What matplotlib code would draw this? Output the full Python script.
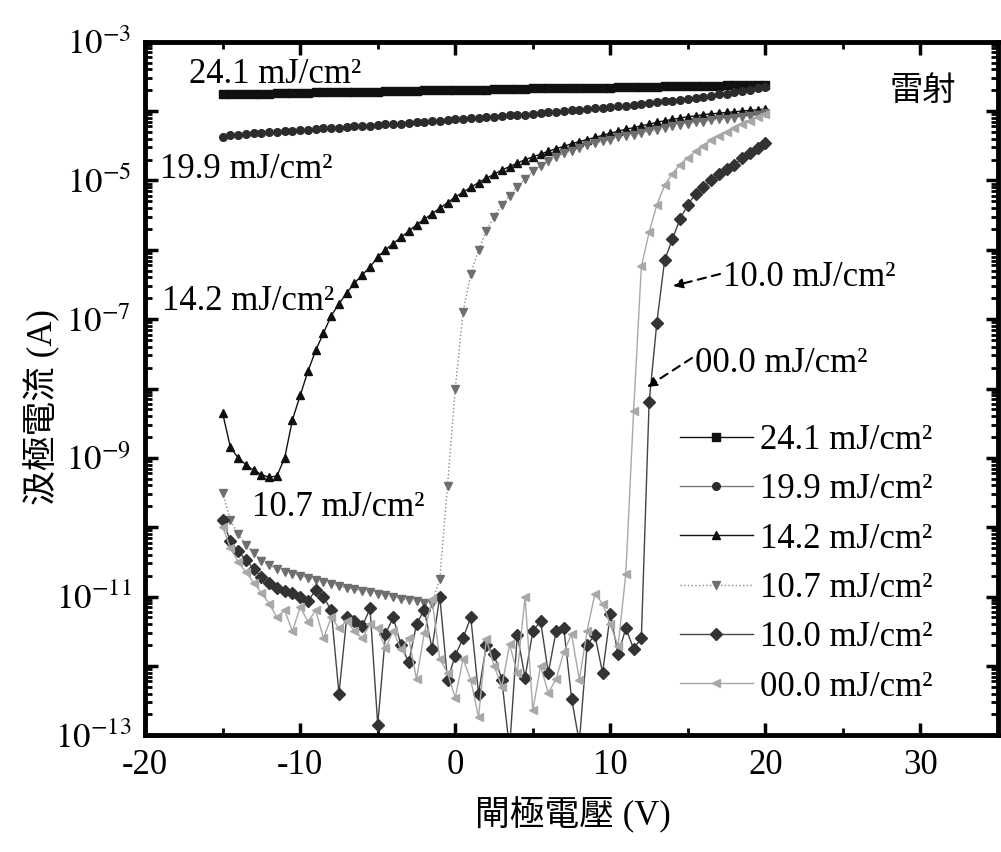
import numpy as np
import matplotlib
matplotlib.use('Agg')
import matplotlib.pyplot as plt
from matplotlib.ticker import LogLocator, MultipleLocator, NullFormatter

plt.rcParams['font.family'] = ['Liberation Serif', 'Noto Sans CJK TC']
plt.rcParams['mathtext.fontset'] = 'stix'
plt.rcParams['axes.unicode_minus'] = False

# gate voltage sweep, -15 V .. 20 V in 0.5 V steps
gate_v = np.arange(-15, 20.5, 0.5)

series_labels = ['24.1 mJ/cm²', '19.9 mJ/cm²', '14.2 mJ/cm²',
                 '10.7 mJ/cm²', '10.0 mJ/cm²', '00.0 mJ/cm²']

# log10 of drain current (A), rows start at -15,-10,-5,0,5,10,15,20 V
log_i_241 = [-3.76, -3.76, -3.76, -3.75, -3.75, -3.75, -3.75, -3.74, -3.74, -3.74,
             -3.74, -3.74, -3.73, -3.73, -3.73, -3.73, -3.72, -3.72, -3.72, -3.72,
             -3.72, -3.71, -3.71, -3.71, -3.71, -3.71, -3.70, -3.70, -3.70, -3.70,
             -3.70, -3.69, -3.69, -3.69, -3.69, -3.68, -3.68, -3.68, -3.68, -3.68,
             -3.67, -3.67, -3.67, -3.67, -3.67, -3.66, -3.66, -3.66, -3.66, -3.66,
             -3.66, -3.65, -3.65, -3.65, -3.65, -3.65, -3.65, -3.64, -3.64, -3.64,
             -3.64, -3.64, -3.64, -3.64, -3.64, -3.63, -3.63, -3.63, -3.63, -3.63,
             -3.63]

log_i_199 = [-4.37, -4.35, -4.34, -4.33, -4.32, -4.31, -4.30, -4.30, -4.29, -4.28,
             -4.27, -4.27, -4.26, -4.25, -4.24, -4.24, -4.23, -4.22, -4.21, -4.21,
             -4.20, -4.19, -4.18, -4.18, -4.17, -4.16, -4.15, -4.14, -4.14, -4.13,
             -4.12, -4.11, -4.10, -4.10, -4.09, -4.08, -4.07, -4.06, -4.05, -4.05,
             -4.04, -4.03, -4.02, -4.01, -4.00, -3.99, -3.98, -3.97, -3.96, -3.95,
             -3.94, -3.93, -3.92, -3.91, -3.90, -3.89, -3.87, -3.86, -3.85, -3.84,
             -3.82, -3.81, -3.79, -3.78, -3.76, -3.75, -3.73, -3.71, -3.69, -3.67,
             -3.65]

log_i_142 = [-8.36, -8.85, -9.00, -9.10, -9.18, -9.24, -9.28, -9.26, -9.00, -8.45,
             -8.10, -7.75, -7.45, -7.20, -6.95, -6.78, -6.62, -6.48, -6.36, -6.25,
             -6.10, -6.00, -5.91, -5.82, -5.73, -5.64, -5.56, -5.48, -5.40, -5.32,
             -5.24, -5.17, -5.10, -5.03, -4.97, -4.91, -4.85, -4.80, -4.75, -4.70,
             -4.66, -4.62, -4.58, -4.54, -4.51, -4.47, -4.44, -4.41, -4.38, -4.35,
             -4.32, -4.29, -4.26, -4.24, -4.21, -4.19, -4.16, -4.14, -4.12, -4.10,
             -4.08, -4.07, -4.05, -4.04, -4.03, -4.02, -4.01, -4.00, -3.99, -3.98,
             -3.97]

log_i_107 = [-9.50, -9.90, -10.10, -10.25, -10.37, -10.48, -10.55, -10.60, -10.64, -10.67,
             -10.70, -10.73, -10.76, -10.79, -10.82, -10.85, -10.87, -10.89, -10.92, -10.94,
             -10.96, -10.98, -11.00, -11.03, -11.05, -11.07, -11.09, -11.10, -10.75, -9.40,
             -8.00, -6.90, -6.35, -6.00, -5.73, -5.52, -5.36, -5.22, -5.09, -4.98,
             -4.87, -4.79, -4.72, -4.66, -4.61, -4.57, -4.53, -4.49, -4.46, -4.43,
             -4.41, -4.38, -4.36, -4.34, -4.32, -4.29, -4.27, -4.25, -4.22, -4.20,
             -4.18, -4.16, -4.15, -4.13, -4.12, -4.11, -4.10, -4.08, -4.07, -4.05,
             -4.03]

log_i_100 = [-9.90, -10.20, -10.35, -10.47, -10.60, -10.72, -10.80, -10.88, -10.92, -10.95,
             -11.00, -11.07, -10.90, -11.00, -11.20, -12.40, -11.30, -11.35, -11.43, -11.17,
             -12.85, -11.54, -11.30, -11.70, -11.95, -11.40, -11.19, -11.75, -11.00, -12.20,
             -11.85, -11.60, -11.30, -12.40, -11.70, -11.83, -12.20, -13.20, -11.55, -12.17,
             -11.50, -11.35, -12.10, -11.50, -11.46, -12.47, -13.10, -11.70, -11.55, -12.10,
             -11.25, -11.83, -11.46, -11.75, -11.60, -8.20, -7.05, -6.15, -5.85, -5.55,
             -5.35, -5.19, -5.10, -5.00, -4.91, -4.83, -4.77, -4.68, -4.60, -4.53,
             -4.46]

log_i_000 = [-10.00, -10.30, -10.50, -10.65, -10.80, -10.95, -11.10, -11.30, -11.20, -11.50,
             -11.15, -11.36, -11.20, -11.60, -11.30, -11.46, -11.35, -11.50, -11.60, -11.40,
             -11.46, -11.74, -11.50, -11.76, -11.60, -12.19, -11.53, -11.04, -11.90, -12.10,
             -12.46, -11.90, -12.20, -12.74, -11.61, -12.00, -12.30, -11.69, -12.10, -11.00,
             -12.64, -12.00, -12.39, -12.19, -11.80, -11.54, -12.20, -11.50, -10.96, -11.10,
             -11.40, -11.71, -10.67, -8.33, -6.24, -5.75, -5.35, -5.07, -4.90, -4.77,
             -4.67, -4.58, -4.50, -4.42, -4.36, -4.30, -4.24, -4.19, -4.14, -4.09,
             -4.04]

all_logs = [log_i_241, log_i_199, log_i_142, log_i_107, log_i_100, log_i_000]
markers = ['s', 'o', '^', 'v', 'D', '<']
mark_colors = ['#101010', '#2c2c2c', '#101010', '#6e6e6e', '#333333', '#a8a8a8']
line_colors = ['#101010', '#7a7a7a', '#101010', '#8a8a8a', '#444444', '#a8a8a8']
line_styles = ['-', '-', '-', ':', '-', '-']
mark_sizes = [5.5, 5.5, 6, 6, 6, 6]

W, H = 1001, 852


def fx(x):
    return x / W


def fy(y):
    return 1 - y / H


fig = plt.figure(figsize=(W / 100, H / 100), dpi=100)
ax = fig.add_axes([0.145, 0.137, 0.852, 0.814])

for logs, lab, m, mc, lc, ls, ms in zip(all_logs, series_labels, markers,
                                       mark_colors, line_colors, line_styles, mark_sizes):
    ax.plot(gate_v, 10.0 ** np.array(logs), marker=m, ms=ms, mfc=mc, mec=mc,
            color=lc, ls=ls, lw=1.0, label=lab)

ax.set_yscale('log')
ax.set_xlim(-20, 35)
ax.set_ylim(1e-13, 1e-3)

ax.xaxis.set_major_locator(MultipleLocator(10))
ax.xaxis.set_minor_locator(MultipleLocator(5))

decades = np.arange(-13, -2)
ax.set_yticks(10.0 ** decades)
ax.set_yticklabels([r'$10^{%d}$' % d if d % 2 else '' for d in decades])
ax.yaxis.set_minor_locator(LogLocator(base=10, subs=np.arange(2, 10), numticks=100))
ax.yaxis.set_minor_formatter(NullFormatter())

ax.tick_params(which='both', direction='in', top=True, right=True)
ax.tick_params(which='major', length=9, width=2.5, labelsize=25, pad=10)
ax.tick_params(which='minor', length=5, width=2)
for sp in ax.spines.values():
    sp.set_linewidth(3.5)

fig.text(fx(42), fy(407), '汲極電流 (A)', rotation=90, ha='center', va='center',
         fontsize=25, fontweight='light')
fig.text(fx(573), fy(815), '閘極電壓 (V)', ha='center', va='center', fontsize=25,
         fontweight='light')
fig.text(fx(923), fy(90), '雷射', ha='center', va='center', fontsize=24,
         family=['Noto Sans CJK TC'], fontweight='light')

# curve labels inside the plot
fig.text(fx(189), fy(83), '24.1 mJ/cm²', fontsize=25, va='baseline')
fig.text(fx(160), fy(178), '19.9 mJ/cm²', fontsize=25, va='baseline')
fig.text(fx(162), fy(310), '14.2 mJ/cm²', fontsize=25, va='baseline')
fig.text(fx(252), fy(516), '10.7 mJ/cm²', fontsize=25, va='baseline')
fig.text(fx(723), fy(286), '10.0 mJ/cm²', fontsize=25, va='baseline')
fig.text(fx(695), fy(372), '00.0 mJ/cm²', fontsize=25, va='baseline')

arrow = dict(arrowstyle='-|>', ls=(0, (4, 3)), lw=1.5, color='k',
             mutation_scale=14, shrinkA=0, shrinkB=0)
ax.annotate('', xy=(673, H - 286), xytext=(720, H - 274),
            xycoords='figure pixels', textcoords='figure pixels', arrowprops=arrow)
ax.annotate('', xy=(647, H - 387), xytext=(692, H - 358),
            xycoords='figure pixels', textcoords='figure pixels', arrowprops=arrow)

ax.legend(loc='upper left', bbox_to_anchor=(fx(680), fy(424)),
          bbox_transform=fig.transFigure, frameon=False, fontsize=25,
          handlelength=2.1, handletextpad=0.2, labelspacing=0.47,
          borderpad=0, borderaxespad=0)

fig.savefig('out.png', dpi=100)
